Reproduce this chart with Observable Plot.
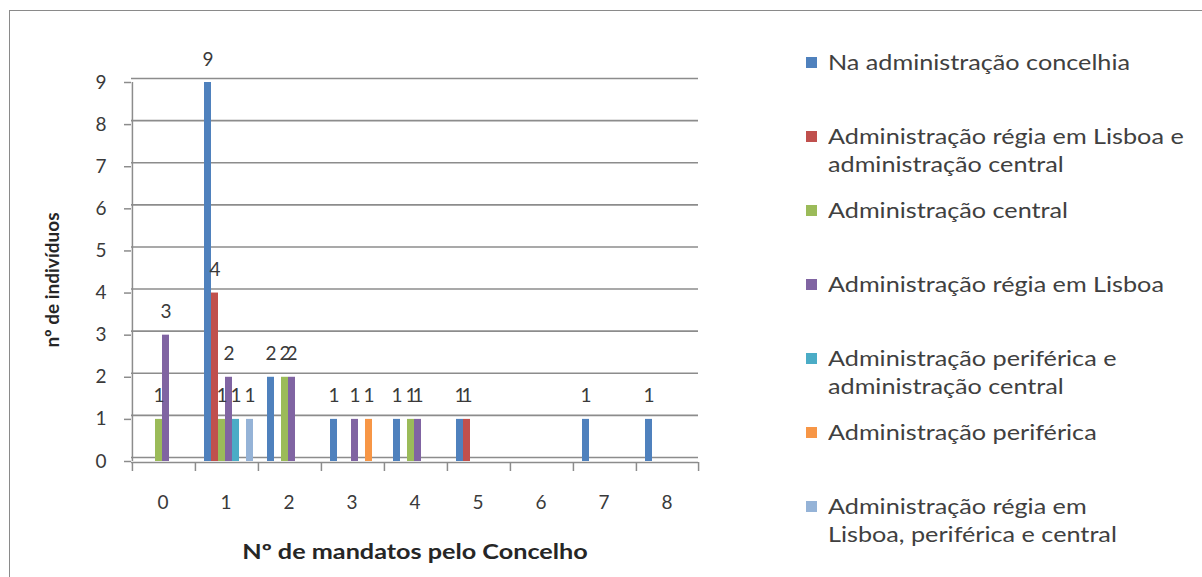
<!DOCTYPE html>
<html>
<head>
<meta charset="utf-8">
<script src="https://cdn.jsdelivr.net/npm/d3@7"></script>
<script src="https://cdn.jsdelivr.net/npm/@observablehq/plot@0.6"></script>
<style>
  html, body { margin: 0; padding: 0; background: #fff; }
  body { font-family: Lato, "Open Sans", sans-serif; color: #404040; }
  #wrap { position: relative; width: 1202px; height: 577px; overflow: hidden; background: #fff; }
  #border { position: absolute; left: 9px; top: 10px; width: 1300px; height: 700px;
            border-left: 1.5px solid #8a8a8a; border-top: 1.5px solid #8a8a8a; }
  #chart { position: absolute; left: 0; top: 0; }
  .ytitle { position: absolute; left: 51px; top: 280px; transform: translate(-50%, -50%) rotate(-90deg);
            font-weight: bold; font-size: 19px; white-space: nowrap; color: #262626; }
  .xtitle { position: absolute; left: 415px; top: 550px; transform: translate(-50%, -50%) scaleX(1.2);
            font-weight: bold; font-size: 21px; white-space: nowrap; color: #262626; }
  #legend { position: absolute; left: 806px; top: 25px; display: flex; flex-direction: column; }
  #legend .item { position: relative; height: 74px; }
  #legend .sw { position: absolute; left: 0; top: 32px; width: 11px; height: 11px; }
  #legend .lbl { margin-left: 22px; padding-top: 23px; font-size: 21px; line-height: 28px; white-space: nowrap;
                 color: #404040; transform: scaleX(1.2); transform-origin: 0 0; }
</style>
</head>
<body>
<div id="wrap">
  <div id="border"></div>
  <div id="chart"></div>
  <div class="ytitle">nº de indivíduos</div>
  <div class="xtitle">Nº de mandatos pelo Concelho</div>
  <div id="legend"></div>
</div>
<script>
// ---- data ----
const categories = [0, 1, 2, 3, 4, 5, 6, 7, 8];
const seriesNames = [
  "Na administração concelhia",
  "Administração régia em Lisboa e administração central",
  "Administração central",
  "Administração régia em Lisboa",
  "Administração periférica e administração central",
  "Administração periférica",
  "Administração régia em Lisboa, periférica e central"
];
const legendLines = [
  ["Na administração concelhia"],
  ["Administração régia em Lisboa e", "administração central"],
  ["Administração central"],
  ["Administração régia em Lisboa"],
  ["Administração periférica e", "administração central"],
  ["Administração periférica"],
  ["Administração régia em", "Lisboa, periférica e central"]
];
const seriesColors = ["#4F81BD", "#C0504D", "#9BBB59", "#8064A2", "#4BACC6", "#F79646", "#95B3D7"];

const naAdministracaoConcelhia     = [0, 9, 2, 1, 1, 1, 0, 1, 1];
const regiaLisboaEAdmCentral       = [0, 4, 0, 0, 0, 1, 0, 0, 0];
const administracaoCentral         = [1, 1, 2, 0, 1, 0, 0, 0, 0];
const regiaEmLisboa                = [3, 2, 2, 1, 1, 0, 0, 0, 0];
const perifericaEAdmCentral        = [0, 1, 0, 0, 0, 0, 0, 0, 0];
const administracaoPeriferica      = [0, 0, 0, 1, 0, 0, 0, 0, 0];
const regiaLisboaPerifericaCentral = [0, 1, 0, 0, 0, 0, 0, 0, 0];

const yTicks = [0, 1, 2, 3, 4, 5, 6, 7, 8, 9];

// ---- build table ----
const seriesValues = [
  naAdministracaoConcelhia, regiaLisboaEAdmCentral, administracaoCentral,
  regiaEmLisboa, perifericaEAdmCentral, administracaoPeriferica, regiaLisboaPerifericaCentral
];
const rows = [];
seriesValues.forEach((vals, s) => vals.forEach((v, i) => rows.push({cat: categories[i], series: seriesNames[s], value: v})));
const shown = rows.filter(d => d.value > 0);

// ---- layout constants ----
const W = 780, H = 577, mL = 131, mR = 82, mT = 82, mB = 116;
const inL = 9, inR = 4;
const facetW = (W - mL - mR) / categories.length;
const bw = (facetW - inL - inR) / seriesNames.length;
const gray = "#8c8c8c";

const leftEdges = categories.map(c => ({cat: c, s: seriesNames[0]}));
const rightEdge = [{cat: categories[categories.length - 1], s: seriesNames[seriesNames.length - 1]}];

const chart = Plot.plot({
  width: W, height: H,
  marginLeft: mL, marginRight: mR, marginTop: mT, marginBottom: mB,
  style: {fontFamily: "Lato, 'Open Sans', sans-serif", fontSize: "19px", color: "#3a3a3a", background: "transparent", overflow: "visible"},
  fx: {domain: categories, padding: 0, label: null},
  x: {domain: seriesNames, padding: 0, insetLeft: inL, insetRight: inR, axis: null},
  y: {domain: [0, 9], label: null},
  color: {domain: seriesNames, range: seriesColors},
  marks: [
    // back-wall gridlines (slight 3D offset)
    Plot.gridY(yTicks.slice(1), {stroke: gray, strokeOpacity: 1, strokeWidth: 1.6, dy: -4}),
    // floor
    Plot.ruleY([0], {stroke: gray, strokeWidth: 1.5, dy: -4}),
    Plot.ruleY([0], {stroke: gray, strokeWidth: 1.5, dy: 1}),
    // left wall
    Plot.ruleX([{cat: categories[0], s: seriesNames[0]}], {fx: "cat", x: "s", dx: -(inL + bw / 2), y1: 0, y2: 9, stroke: gray, strokeWidth: 1.5}),
    // category boundary ticks
    Plot.ruleX(leftEdges, {fx: "cat", x: "s", dx: -(inL + bw / 2), y1: 0, y2: 0, insetTop: 1, insetBottom: -10, stroke: gray, strokeWidth: 1.5}),
    Plot.ruleX(rightEdge, {fx: "cat", x: "s", dx: (inR + bw / 2), y1: 0, y2: 0, insetTop: 1, insetBottom: -10, stroke: gray, strokeWidth: 1.5}),
    // bars
    Plot.barY(shown, {fx: "cat", x: "series", y: "value", fill: "series"}),
    // value labels
    Plot.text(shown, {fx: "cat", x: "series", y: "value", text: "value", dy: -23, fill: "#3a3a3a", fontSize: 19}),
    // axes
    Plot.axisY(yTicks, {tickSize: 7, tickPadding: 18, stroke: gray, strokeWidth: 1.5, fontSize: 19, label: null}),
    Plot.axisFx({anchor: "bottom", tickSize: 0, tickPadding: 34, fontSize: 19, label: null})
  ]
});
document.getElementById("chart").appendChild(chart);

// ---- legend ----
const legend = document.getElementById("legend");
legendLines.forEach((lines, i) => {
  const item = document.createElement("div");
  item.className = "item";
  const sw = document.createElement("div");
  sw.className = "sw";
  sw.style.background = seriesColors[i];
  const lbl = document.createElement("div");
  lbl.className = "lbl";
  lbl.innerHTML = lines.join("<br>");
  item.appendChild(sw);
  item.appendChild(lbl);
  legend.appendChild(item);
});
</script>
</body>
</html>
